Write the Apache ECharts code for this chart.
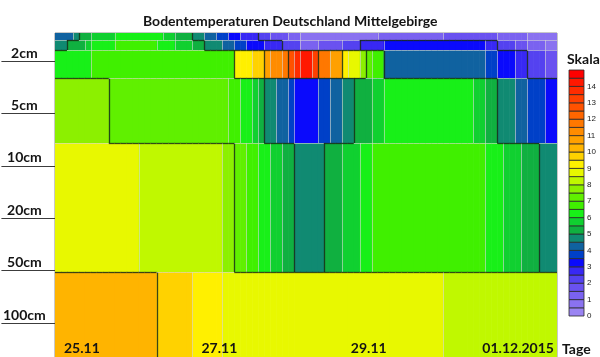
<!DOCTYPE html>
<html>
<head>
<meta charset="utf-8">
<script src="https://cdn.jsdelivr.net/npm/echarts@6.0.0/dist/echarts.min.js"></script>
<style>html,body{margin:0;padding:0;background:#fff}#c{width:600px;height:357px}</style>
</head>
<body>
<div id="c"></div>
<script>
// ---- data (°C), one value per 2-hour time step, per soil layer ----
const layerNames = ['top1', 'top2', '2cm', '5cm', '10-50cm', '100cm'];
const layerBounds = [0, 7, 17, 45, 110, 239, 324];   // layer extents on the depth scale
const depthLabels = ['2cm', '5cm', '10cm', '20cm', '50cm', '100cm'];
const dateLabels = ['25.11', '27.11', '29.11', '01.12.2015'];
const dateLabelSteps = [4, 27, 52, 77];

const tTop1 = [
 4.25,4.25,4.25,4.75,5.25,5.25,5.75,5.75,5.75,5.75,
 6.25,6.25,6.25,6.25,6.25,6.25,6.25,6.25,5.75,5.75,
 5.25,5.25,5.25,4.75,4.75,4.25,4.25,3.75,3.75,3.25,
 3.25,2.75,2.75,2.75,2.25,2.25,1.75,1.75,1.75,1.25,
 1.25,0.75,0.75,0.75,0.75,0.75,0.75,0.75,0.75,0.75,
 0.75,0.75,0.75,0.75,1.25,1.25,1.25,1.25,1.25,1.25,
 1.25,1.25,1.25,1.25,1.25,1.75,1.75,1.75,1.75,1.75,
 1.75,1.75,1.75,1.75,1.25,1.25,1.25,1.25,1.25,0.75,
 0.75,0.75,0.75,0.75];
const tTop2 = [
 4.75,4.75,5.25,5.25,5.25,5.75,6.25,6.25,6.25,6.25,
 6.75,6.75,6.75,6.75,6.75,6.75,6.75,6.25,6.25,6.25,
 5.75,5.75,5.75,5.25,5.25,4.75,4.75,4.75,4.25,4.25,
 3.75,3.75,3.25,3.25,3.25,2.75,2.75,2.75,2.25,2.25,
 2.25,1.25,1.25,1.25,1.75,1.75,1.75,1.75,2.25,2.25,
 2.25,2.75,2.75,2.75,2.75,3.25,3.25,3.25,3.25,3.25,
 3.25,3.25,3.25,3.25,3.25,3.25,3.25,3.25,3.25,3.25,
 3.25,3.25,2.75,2.75,2.25,2.25,2.25,1.75,1.75,1.25,
 1.25,1.25,0.75,0.75];
const t2cm = [
 6.25,6.25,6.25,6.25,6.25,6.25,6.75,6.75,6.75,6.75,
 6.75,6.75,6.75,6.75,6.75,6.75,6.75,6.75,6.75,6.75,
 6.75,6.75,6.75,6.75,6.75,6.75,6.75,6.75,6.75,6.75,
 9.25,9.25,9.25,9.75,9.75,10.75,11.25,11.25,11.75,12.75,
 13.75,14.25,14.25,13.25,11.75,11.75,10.75,10.75,9.25,8.75,
 8.75,7.75,7.25,6.75,6.75,4.25,4.25,4.25,4.25,4.25,
 4.25,4.25,4.25,4.25,4.25,4.25,4.25,4.25,4.25,4.25,
 4.25,4.25,3.75,3.75,3.25,3.25,3.25,2.75,2.75,2.25,
 2.25,2.25,1.75,1.75];
const t5cm = [
 7.75,7.75,7.75,7.75,7.75,7.75,7.75,7.75,7.75,7.25,
 7.25,7.25,7.25,7.25,7.25,7.25,7.25,7.25,7.25,7.25,
 7.25,7.25,7.25,7.25,7.25,7.25,7.25,7.25,7.25,6.75,
 6.75,6.25,6.25,5.75,5.25,4.75,4.75,4.25,4.25,3.75,
 3.25,3.25,3.25,3.25,3.75,3.75,4.25,4.25,4.75,4.75,
 5.25,5.25,5.25,5.75,5.75,6.25,6.25,6.25,6.25,6.25,
 6.25,6.25,6.25,6.25,6.25,6.25,6.25,6.25,6.25,6.25,
 5.75,5.75,5.25,5.25,4.75,4.75,4.75,4.25,4.25,3.75,
 3.75,3.75,3.25,3.25];
const t10to50cm = [
 8.75,8.75,8.75,8.75,8.75,8.75,8.75,8.75,8.75,8.75,
 8.75,8.75,8.75,8.75,8.25,8.25,8.25,8.25,8.25,8.25,
 8.25,8.25,8.25,8.25,8.25,8.25,8.25,8.25,7.75,7.75,
 7.25,7.25,6.75,6.75,6.25,6.25,5.75,5.75,5.25,5.25,
 4.75,4.75,4.75,4.75,4.75,5.25,5.25,5.25,5.75,5.75,
 5.75,6.25,6.25,6.75,6.75,6.75,6.75,6.75,6.75,6.75,
 6.75,6.75,6.75,6.75,6.75,6.75,6.75,6.75,6.75,6.75,
 6.75,6.75,6.25,6.25,6.25,5.75,5.75,5.75,5.25,5.25,
 5.25,4.75,4.75,4.75];
const t100cm = [
 10.25,10.25,10.25,10.25,10.25,10.25,10.25,10.25,10.25,10.25,
 10.25,10.25,10.25,10.25,10.25,10.25,10.25,9.75,9.75,9.75,
 9.75,9.75,9.75,9.25,9.25,9.25,9.25,9.25,8.75,8.75,
 8.75,8.75,8.75,8.75,8.75,8.75,8.75,8.75,8.75,8.75,
 8.75,8.75,8.75,8.75,8.75,8.75,8.75,8.75,8.75,8.75,
 8.75,8.75,8.75,8.75,8.75,8.75,8.75,8.75,8.75,8.75,
 8.75,8.75,8.75,8.75,8.75,8.25,8.25,8.25,8.25,8.25,
 8.25,8.25,8.25,8.25,8.25,8.25,8.25,8.25,8.25,8.25,
 8.25,8.25,8.25,8.25];

// colour scale (Skala): 0.5 °C steps from 0 to 15
const scaleSteps = [0,0.5,1,1.5,2,2.5,3,3.5,4,4.5,5,5.5,6,6.5,7,7.5,8,8.5,9,9.5,10,10.5,11,11.5,12,12.5,13,13.5,14,14.5];
const scaleColors = [
 '#9a84f2','#8a72f0','#7a62f0','#6a52f0','#5442f0','#3828f4','#0a0afc','#0040c8','#1062a0','#108a72',
 '#10b040','#10d030','#18f018','#40f000','#60f000','#8cf000','#c0f800','#e8f800','#fff000','#ffd200',
 '#ffb400','#ffa000','#ff8c00','#ff7800','#ff6600','#ff5200','#ff4000','#ff2c00','#ff1800','#ff0000'];

// ---- build ----
const layers = [tTop1, tTop2, t2cm, t5cm, t10to50cm, t100cm];
const timeSteps = tTop1.map((_, i) => String(i * 2) + 'h');
const cells = [];
layers.forEach((row, L) => row.forEach((v, c) => cells.push([c, L, v])));
const scaleData = scaleSteps.map(s => [0, s, s + 0.25]);

const darkLine = 'rgba(25,45,25,0.85)';
const lightLine = 'rgba(215,215,215,0.6)';
const contourBand = v => Math.floor(v / 2.5);

function renderCell(params, api) {
  const col = api.value(0), L = api.value(1), v = api.value(2);
  const w = api.size([1, 0])[0];
  const a = api.coord([col, layerBounds[L]]);
  const b = api.coord([col, layerBounds[L + 1]]);
  const x0 = a[0] - w / 2, x1 = x0 + w, y0 = a[1], y1 = b[1];
  const ch = [{type: 'rect', shape: {x: x0, y: y0, width: w + 0.6, height: y1 - y0 + 0.6},
               style: {fill: api.visual('color')}}];
  const row = layers[L];
  if (col > 0 && row[col - 1] !== v) {
    const dark = contourBand(row[col - 1]) !== contourBand(v);
    const xx = Math.round(x0) + 0.5;
    ch.push({type: 'line', shape: {x1: xx, y1: y0, x2: xx, y2: y1},
             style: {stroke: dark ? darkLine : lightLine, lineWidth: dark ? 1.3 : 1}});
  }
  if (L > 0) {
    const dark = contourBand(layers[L - 1][col]) !== contourBand(v);
    const yy = Math.round(y0) + 0.5;
    ch.push({type: 'line', shape: {x1: x0, y1: yy, x2: x1 + 0.6, y2: yy},
             style: {stroke: dark ? darkLine : lightLine, lineWidth: dark ? 1.3 : 1}});
  }
  return {type: 'group', children: ch};
}

function renderScale(params, api) {
  const w = api.size([1, 0])[0];
  const lo = api.coord([0, api.value(1)]);
  const hi = api.coord([0, api.value(1) + 0.5]);
  return {type: 'rect', shape: {x: lo[0] - w / 2, y: hi[1], width: w, height: lo[1] - hi[1]},
          style: {fill: api.visual('color'), stroke: '#2a2a2a', lineWidth: 0.8}};
}

const boldFont = {fontFamily: 'Lato', fontWeight: 'bold', color: '#141414'};
const chart = echarts.init(document.getElementById('c'), null, {renderer: 'canvas'});
chart.setOption({
  backgroundColor: '#fff',
  animation: false,
  title: [
    {text: 'Bodentemperaturen Deutschland Mittelgebirge', left: 138, top: 9,
     textStyle: Object.assign({fontSize: 14}, boldFont)},
    {text: 'Skala', left: 562, top: 47, textStyle: Object.assign({fontSize: 14}, boldFont)}
  ],
  grid: [
    {left: 55, top: 33, width: 502, height: 324, show: true, borderColor: '#909090', borderWidth: 1},
    {left: 55, top: 61, width: 502, height: 262},
    {left: 569, top: 70, width: 15, height: 246}
  ],
  visualMap: {
    type: 'piecewise', show: false, dimension: 2, seriesIndex: [0, 1],
    pieces: scaleSteps.map((s, i) => ({gte: s, lt: s + 0.5, color: scaleColors[i]}))
  },
  xAxis: [
    {type: 'category', gridIndex: 0, data: timeSteps, boundaryGap: true, z: 10, position: 'bottom',
     axisLine: {show: false, onZero: false}, axisTick: {show: false}, splitLine: {show: false},
     axisLabel: Object.assign({inside: true, interval: 0, margin: 2, fontSize: 14,
       formatter: (val, idx) => { const k = dateLabelSteps.indexOf(idx); return k >= 0 ? dateLabels[k] : ''; }}, boldFont),
     name: 'Tage', nameLocation: 'end', nameGap: 5,
     nameTextStyle: Object.assign({fontSize: 14, verticalAlign: 'bottom', align: 'left', padding: [0, 0, 1, 0]}, boldFont)},
    {type: 'value', gridIndex: 1, min: 0, max: 1, show: false},
    {type: 'category', gridIndex: 2, data: ['Skala'], show: false}
  ],
  yAxis: [
    {type: 'value', gridIndex: 0, min: 0, max: 324, inverse: true, show: false},
    {type: 'value', gridIndex: 1, min: 0, max: 5, interval: 1, inverse: true,
     axisLine: {show: false}, splitLine: {show: false},
     axisTick: {show: true, length: 55, lineStyle: {color: '#3c3c3c', width: 1}},
     axisLabel: Object.assign({fontSize: 14, align: 'center', verticalAlign: 'bottom', margin: 32,
       padding: [0, 0, 1, 0], formatter: v => depthLabels[v]}, boldFont)},
    {type: 'value', gridIndex: 2, min: 0, max: 15, interval: 1, position: 'right',
     axisLine: {show: false}, axisTick: {show: false}, splitLine: {show: false},
     axisLabel: {fontSize: 8, color: '#222', margin: 3, fontFamily: 'Liberation Sans',
       formatter: v => (v < 15 ? String(v) : '')}}
  ],
  series: [
    {type: 'custom', name: 'Bodentemperatur', coordinateSystem: 'cartesian2d', xAxisIndex: 0, yAxisIndex: 0,
     renderItem: renderCell, data: cells, encode: {x: 0, y: 1}, clip: true},
    {type: 'custom', name: 'Skala', coordinateSystem: 'cartesian2d', xAxisIndex: 2, yAxisIndex: 2,
     renderItem: renderScale, data: scaleData, encode: {x: 0, y: 1}}
  ]
});
</script>
</body>
</html>
